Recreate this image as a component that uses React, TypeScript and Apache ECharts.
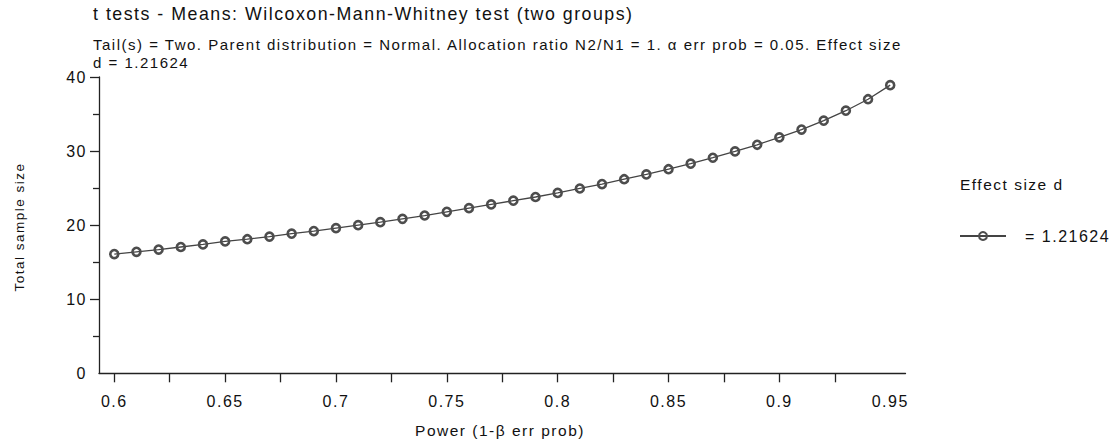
import React, { useEffect, useRef } from "react";
import * as echarts from "echarts";

const titleText = "t tests - Means: Wilcoxon-Mann-Whitney test (two groups)";
const subtitleLines = [
  "Tail(s) = Two. Parent distribution = Normal. Allocation ratio N2/N1 = 1. α err prob = 0.05. Effect size",
  "d = 1.21624",
];
const xAxisName = "Power (1-β err prob)";
const yAxisName = "Total sample size";
const legendTitle = "Effect size d";
const seriesName = "= 1.21624";

const power = [
  0.6, 0.61, 0.62, 0.63, 0.64, 0.65, 0.66, 0.67, 0.68, 0.69, 0.7, 0.71, 0.72,
  0.73, 0.74, 0.75, 0.76, 0.77, 0.78, 0.79, 0.8, 0.81, 0.82, 0.83, 0.84, 0.85,
  0.86, 0.87, 0.88, 0.89, 0.9, 0.91, 0.92, 0.93, 0.94, 0.95,
];
const sampleSize = [
  16.1, 16.4, 16.7, 17.05, 17.4, 17.8, 18.1, 18.45, 18.85, 19.2, 19.6, 20.0,
  20.4, 20.85, 21.3, 21.8, 22.3, 22.8, 23.3, 23.8, 24.35, 24.95, 25.55, 26.2,
  26.85, 27.55, 28.3, 29.1, 29.95, 30.85, 31.85, 32.9, 34.1, 35.45, 37.0, 38.9,
];

const xTickValues = [
  0.6, 0.625, 0.65, 0.675, 0.7, 0.725, 0.75, 0.775, 0.8, 0.825, 0.85, 0.875,
  0.9, 0.925,
];
const xLabelValues = [0.6, 0.65, 0.7, 0.75, 0.8, 0.85, 0.9, 0.95];
const yMajorTicks = [10, 20, 30, 40];
const yMinorTicks = [5, 15, 25, 35];
const yLabelValues = [0, 10, 20, 30, 40];

const FONT = '"Liberation Sans", Arial, Helvetica, sans-serif';
const TEXT = "#111";

export default function App() {
  const ref = useRef<HTMLDivElement>(null);

  useEffect(() => {
    document.body.style.margin = "0";
    if (!ref.current) return;
    const chart = echarts.init(ref.current, undefined, { renderer: "svg" });
    const data = power.map((p, i) => [p, sampleSize[i]]);
    chart.setOption({
      animation: false,
      backgroundColor: "#fff",
      textStyle: { fontFamily: FONT, color: TEXT },
      grid: { left: 99, right: 212.5, top: 77, bottom: 70.7, containLabel: false },
      xAxis: {
        type: "value",
        min: 0.5931,
        max: 0.9569,
        axisLine: { show: true, onZero: false, lineStyle: { color: "#222", width: 1.3 } },
        axisTick: {
          show: true,
          length: 9,
          customValues: xTickValues,
          lineStyle: { color: "#222", width: 1.3 },
        },
        axisLabel: {
          show: true,
          customValues: xLabelValues,
          margin: 20,
          fontSize: 16,
          lineHeight: 16,
          color: TEXT,
          fontFamily: FONT,
          formatter: (v: number) => String(Math.round(v * 100) / 100),
        },
        splitLine: { show: false },
      },
      yAxis: [
        {
          type: "value",
          min: 0,
          max: 40,
          axisLine: { show: true, onZero: false, lineStyle: { color: "#222", width: 1.3 } },
          axisTick: {
            show: true,
            length: 9,
            customValues: yMajorTicks,
            lineStyle: { color: "#222", width: 1.3 },
          },
          axisLabel: {
            show: true,
            customValues: yLabelValues,
            margin: 12,
            fontSize: 16,
            color: TEXT,
            fontFamily: FONT,
          },
          splitLine: { show: false },
        },
        {
          type: "value",
          min: 0,
          max: 40,
          position: "left",
          axisLine: { show: false },
          axisTick: {
            show: true,
            length: 6,
            customValues: yMinorTicks,
            lineStyle: { color: "#222", width: 1.3 },
          },
          axisLabel: { show: false },
          splitLine: { show: false },
        },
      ],
      legend: {
        left: 954,
        top: 223,
        orient: "vertical",
        itemWidth: 46,
        itemHeight: 10,
        textStyle: {
          fontSize: 16,
          lineHeight: 10,
          color: TEXT,
          fontFamily: FONT,
          padding: [0, 0, 0, 14],
        },
        data: [seriesName],
      },
      series: [
        {
          name: seriesName,
          type: "line",
          data,
          symbol: "circle",
          symbolSize: 8,
          lineStyle: { color: "#444", width: 1.3 },
          itemStyle: { color: "rgba(255,255,255,0)", borderColor: "#4d4d4d", borderWidth: 2.6 },
        },
      ],
      graphic: [
        {
          type: "text",
          x: 93,
          y: 14,
          style: { text: titleText, fontSize: 17.8, fontFamily: FONT, fill: TEXT, align: "left", verticalAlign: "middle" },
        },
        {
          type: "text",
          x: 93,
          y: 44,
          style: { text: subtitleLines[0], fontSize: 15, fontFamily: FONT, fill: TEXT, align: "left", verticalAlign: "middle" },
        },
        {
          type: "text",
          x: 93,
          y: 62,
          style: { text: subtitleLines[1], fontSize: 15, fontFamily: FONT, fill: TEXT, align: "left", verticalAlign: "middle" },
        },
        {
          type: "text",
          x: 19,
          y: 227,
          rotation: Math.PI / 2,
          style: { text: yAxisName, fontSize: 13.5, fontFamily: FONT, fill: TEXT, align: "center", verticalAlign: "middle" },
        },
        {
          type: "text",
          x: 500,
          y: 430,
          style: { text: xAxisName, fontSize: 15.5, fontFamily: FONT, fill: TEXT, align: "center", verticalAlign: "middle" },
        },
        {
          type: "text",
          x: 960,
          y: 184,
          style: { text: legendTitle, fontSize: 15.5, fontFamily: FONT, fill: TEXT, align: "left", verticalAlign: "middle" },
        },
      ],
    });
    return () => chart.dispose();
  }, []);

  return (
    <>
      <style>{"#chart-box text{letter-spacing:1.5px}"}</style>
      <div id="chart-box" ref={ref} style={{ width: 1118, height: 444 }} />
    </>
  );
}
